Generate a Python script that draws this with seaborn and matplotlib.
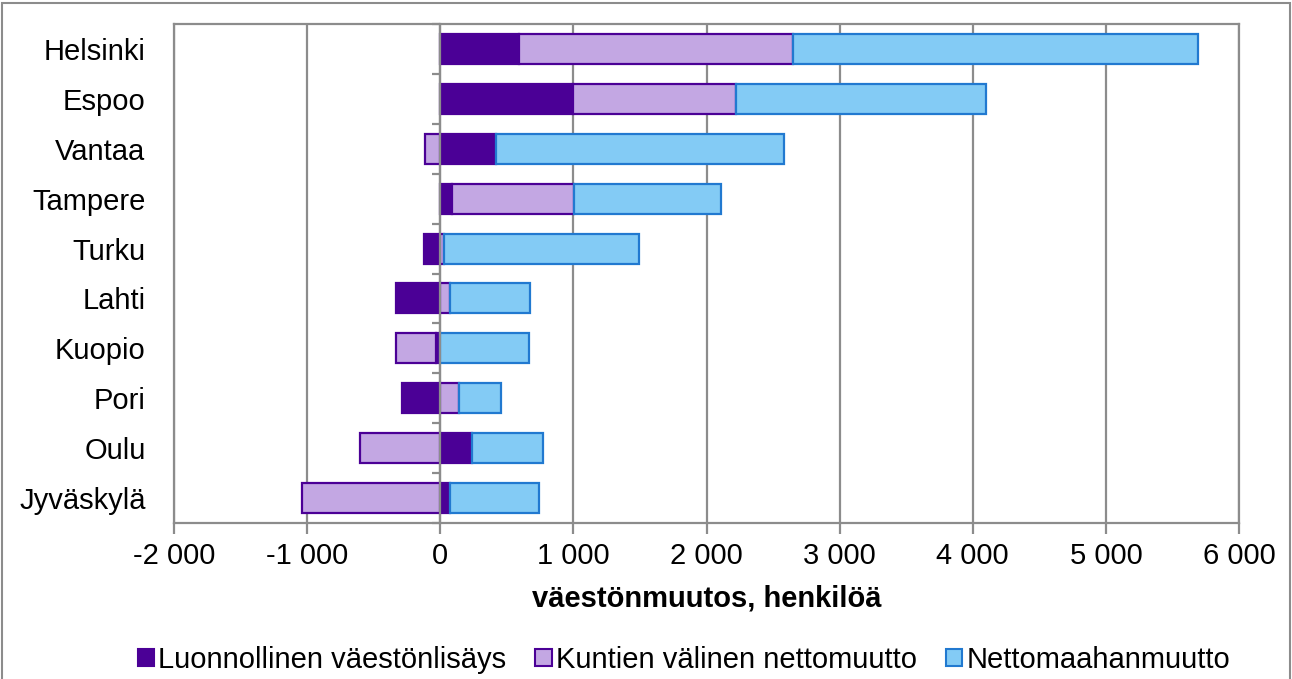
import numpy as np
import pandas as pd
import matplotlib
matplotlib.use("Agg")
import matplotlib.pyplot as plt
import seaborn as sns
from matplotlib.patches import Patch, Rectangle
from matplotlib.ticker import FuncFormatter, MultipleLocator

# data
cities = ["Helsinki", "Espoo", "Vantaa", "Tampere", "Turku",
          "Lahti", "Kuopio", "Pori", "Oulu", "Jyväskylä"]
luonnollinen = [595, 1000, 420, 85, -120, -330, -35, -285, 242, 75]
kuntien = [2055, 1225, -113, 922, 25, 70, -298, 140, -600, -1040]
netto = [3044, 1876, 2165, 1102, 1470, 606, 666, 315, 531, 666]

series_names = ["Luonnollinen väestönlisäys", "Kuntien välinen nettomuutto", "Nettomaahanmuutto"]
fills = ["#4B0096", "#C3A7E3", "#83CBF5"]
edges = ["#4B0096", "#4B0096", "#2179D0"]

sns.set_style("white")
plt.rcParams["font.family"] = ["Liberation Sans", "DejaVu Sans"]
plt.rcParams["text.color"] = "black"
plt.rcParams["axes.labelcolor"] = "black"
plt.rcParams["xtick.labelcolor"] = "black"
plt.rcParams["ytick.labelcolor"] = "black"
grey = "#8C8C8C"

fig = plt.figure(figsize=(12.92, 6.79), dpi=100)
ax = fig.add_axes([174/1292, 1-523/679, (1239-174)/1292, (523-24)/679])

# diverging stacks: positives grow right from 0, negatives grow left from 0
pos_base = np.zeros(len(cities))
neg_base = np.zeros(len(cities))
for name, vals, fc, ec in zip(series_names, [luonnollinen, kuntien, netto], fills, edges):
    vals = np.array(vals, dtype=float)
    left = np.where(vals >= 0, pos_base, neg_base)
    df = pd.DataFrame({"kaupunki": cities, "arvo": vals})
    sns.barplot(data=df, y="kaupunki", x="arvo", order=cities, orient="h",
                left=left, color=fc, saturation=1, edgecolor=ec, linewidth=1.6,
                width=0.6, errorbar=None, ax=ax, zorder=3)
    pos_base = pos_base + np.where(vals >= 0, vals, 0)
    neg_base = neg_base + np.where(vals < 0, vals, 0)

ax.set_xlim(-2000, 6000)
ax.set_ylim(len(cities) - 0.5, -0.5)
ax.xaxis.set_major_locator(MultipleLocator(1000))
ax.xaxis.set_major_formatter(FuncFormatter(lambda v, p: f"{int(v):,}".replace(",", " ")))
ax.grid(axis="x", color=grey, lw=1.6, zorder=0)
ax.grid(axis="y", visible=False)
for s in ax.spines.values():
    s.set_color(grey)
    s.set_linewidth(1.6)
ax.tick_params(axis="x", bottom=True, length=8, width=1.6, color=grey,
               labelsize=21, pad=6, labelcolor="black")
ax.tick_params(axis="y", left=False, labelsize=21, pad=17, labelcolor="black")
ax.set_ylabel("")
ax.set_xlabel("väestönmuutos, henkilöä", fontsize=21, fontweight="bold",
              labelpad=10, color="black")

# vertical category axis crossing at zero, drawn over the bars
sec = ax.secondary_yaxis(0.25)
sec.set_yticks(np.arange(len(cities) + 1) - 0.5)
sec.set_yticklabels([])
sec.tick_params(axis="y", length=6, width=1.6, color=grey, direction="out")
sec.spines["left"].set_color(grey)
sec.spines["left"].set_linewidth(1.6)
sec.set_zorder(10)

handles = [Patch(facecolor=fc, edgecolor=ec, linewidth=1.5) for fc, ec in zip(fills, edges)]
fig.legend(handles, series_names, loc="center", bbox_to_anchor=(684/1292, 1-660/679),
           ncol=3, frameon=False, fontsize=21, handlelength=0.55, handleheight=0.55,
           handletextpad=0.15, columnspacing=1.0, borderaxespad=0)

fig.patches.append(Rectangle((2/1292, -0.05), 1-4/1292, 1.05-3/679, transform=fig.transFigure,
                             fill=False, edgecolor=grey, lw=1.5))

plt.savefig("out.png", dpi=100)
